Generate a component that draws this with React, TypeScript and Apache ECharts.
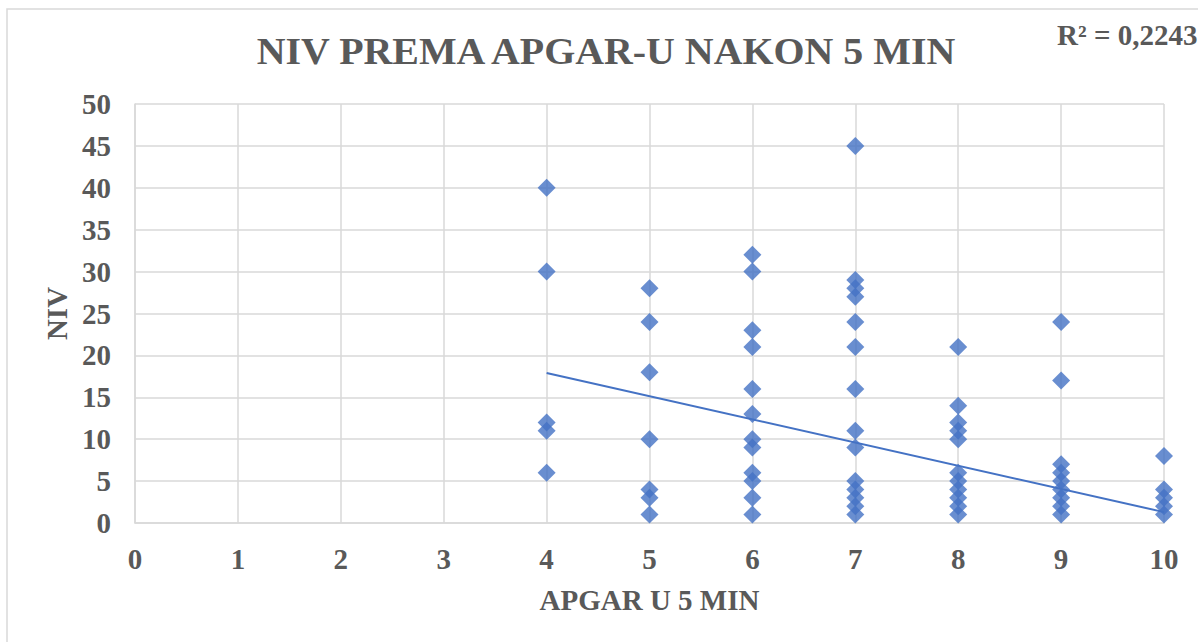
import React, { useEffect, useRef } from "react";
import * as echarts from "echarts";

const apgarScores = [4, 5, 6, 7, 8, 9, 10];
const nivAt4 = [40, 30, 12, 11, 6];
const nivAt5 = [28, 24, 18, 10, 4, 3, 1];
const nivAt6 = [32, 30, 23, 21, 16, 13, 10, 9, 6, 5, 3, 1];
const nivAt7 = [45, 29, 28, 27, 24, 21, 16, 11, 9, 5, 4, 3, 2, 1];
const nivAt8 = [21, 14, 12, 11, 10, 6, 5, 4, 3, 2, 1];
const nivAt9 = [24, 17, 7, 6, 5, 4, 3, 2, 1];
const nivAt10 = [8, 4, 3, 2, 1];
const trendX = [4, 10];
const trendY = [17.9, 1.3];

const titleText = "NIV PREMA APGAR-U NAKON 5 MIN";
const r2Text = "R² = 0,2243";
const xAxisTitle = "APGAR U 5 MIN";
const yAxisTitle = "NIV";

export default function App() {
  const ref = useRef<HTMLDivElement>(null);
  useEffect(() => {
    if (!ref.current) return;
    const chart = echarts.init(ref.current, null, { renderer: "svg" });
    const groups = [nivAt4, nivAt5, nivAt6, nivAt7, nivAt8, nivAt9, nivAt10];
    const points: number[][] = [];
    groups.forEach((g, i) => g.forEach((v) => points.push([apgarScores[i], v])));
    const trend = trendX.map((x, i) => [x, trendY[i]]);
    const grey = "#595959";
    const font = "'Liberation Serif', 'Times New Roman', serif";
    chart.setOption({
      animation: false,
      backgroundColor: "#ffffff",
      grid: { left: 135, right: 34, top: 104, bottom: 119 },
      xAxis: {
        type: "value",
        min: 0,
        max: 10,
        interval: 1,
        name: xAxisTitle,
        nameLocation: "middle",
        nameGap: 62,
        nameTextStyle: { color: grey, fontSize: 29, fontWeight: "bold", fontFamily: font },
        axisLine: { show: true, lineStyle: { color: "#d9d9d9", width: 1.5 } },
        axisTick: { show: false },
        axisLabel: { color: grey, fontSize: 29, fontWeight: "bold", fontFamily: font, margin: 21 },
        splitLine: { show: true, lineStyle: { color: "#d9d9d9", width: 1.5 } },
      },
      yAxis: {
        type: "value",
        min: 0,
        max: 50,
        interval: 5,
        name: yAxisTitle,
        nameLocation: "middle",
        nameGap: 63,
        nameRotate: 90,
        nameTextStyle: { color: grey, fontSize: 29, fontWeight: "bold", fontFamily: font },
        axisLine: { show: true, lineStyle: { color: "#d9d9d9", width: 1.5 } },
        axisTick: { show: false },
        axisLabel: { color: grey, fontSize: 29, fontWeight: "bold", fontFamily: font, margin: 24 },
        splitLine: { show: true, lineStyle: { color: "#d9d9d9", width: 1.5 } },
      },
      graphic: [
        {
          type: "rect",
          shape: { x: 7, y: 9, width: 1400, height: 800 },
          style: { fill: "none", stroke: "#d9d9d9", lineWidth: 1.5 },
          silent: true,
        },
        {
          type: "text",
          x: 606,
          y: 51,
          scaleX: 1.05,
          style: {
            text: titleText,
            fill: grey,
            font: `bold 38px ${font}`,
            textAlign: "center",
            textVerticalAlign: "middle",
          },
        },
        {
          type: "text",
          x: 1057,
          y: 35,
          style: {
            text: r2Text,
            fill: grey,
            font: `bold 29px ${font}`,
            textAlign: "left",
            textVerticalAlign: "middle",
          },
        },
      ],
      series: [
        {
          type: "line",
          data: trend,
          showSymbol: false,
          symbol: "none",
          lineStyle: { color: "#4472C4", width: 2 },
          z: 3,
        },
        {
          type: "scatter",
          data: points,
          symbol: "diamond",
          symbolSize: [18, 18],
          itemStyle: { color: "#4472C4" },
          z: 2,
        },
      ],
    });
    return () => chart.dispose();
  }, []);
  return (
    <div
      ref={ref}
      style={{ position: "absolute", left: 0, top: 0, width: 1198, height: 642 }}
    />
  );
}
